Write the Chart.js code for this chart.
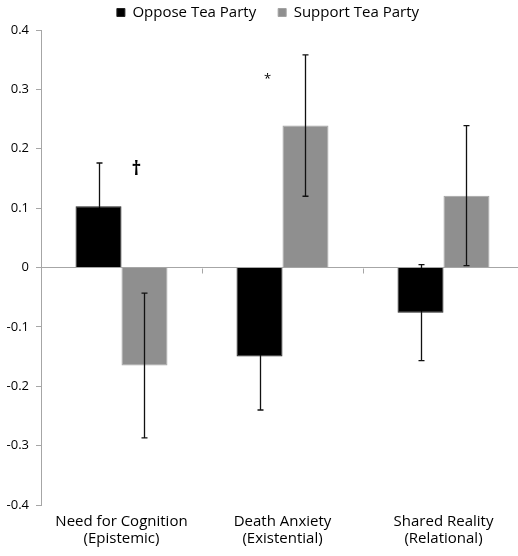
<!DOCTYPE html>
<html>
<head>
<meta charset="utf-8">
<script src="https://cdn.jsdelivr.net/npm/chart.js@4.4.1/dist/chart.umd.min.js"></script>
<style>
  html, body { margin: 0; padding: 0; background: #fff; overflow: hidden; }
  #wrap { position: relative; width: 524px; height: 556px; }
</style>
</head>
<body>
<div id="wrap"><canvas id="c"></canvas></div>
<script>
// ---- data ----
const categories = [["Need for Cognition", "(Epistemic)"], ["Death Anxiety", "(Existential)"], ["Shared Reality", "(Relational)"]];
const seriesNames = ["Oppose Tea Party", "Support Tea Party"];
const opposeValues = [0.103, -0.150, -0.076];
const supportValues = [-0.165, 0.239, 0.121];
const opposeErrors = [0.073, 0.090, 0.081];
const supportErrors = [0.122, 0.119, 0.118];
const yTickLabels = ["-0.4", "-0.3", "-0.2", "-0.1", "0", "0.1", "0.2", "0.3", "0.4"];
const markerLabels = ["\u2020", "*", ""];
const markerValues = [0.165, 0.317, null];

const FONT = "'Open Sans', 'Noto Sans', sans-serif";
const AXIS_GRAY = "#a6a6a6";

function drawErrors(chart, di) {
  const ctx = chart.ctx;
  const y = chart.scales.y;
  const errs = [opposeErrors, supportErrors][di];
  const ds = chart.data.datasets[di];
  const meta = chart.getDatasetMeta(di);
  ctx.save();
  ctx.strokeStyle = "#111";
  ctx.lineWidth = 1.3;
  meta.data.forEach((bar, i) => {
    const v = ds.data[i], e = errs[i];
    const x = Math.round(bar.x) + 0.5;
    const yt = y.getPixelForValue(v + e);
    const yb = y.getPixelForValue(v - e);
    ctx.beginPath();
    ctx.moveTo(x, yt); ctx.lineTo(x, yb);
    ctx.moveTo(x - 3, yt); ctx.lineTo(x + 3, yt);
    ctx.moveTo(x - 3, yb); ctx.lineTo(x + 3, yb);
    ctx.stroke();
  });
  ctx.restore();
}

const errorBarPlugin = {
  id: "errorBars",
  beforeDatasetsDraw(chart) { drawErrors(chart, 0); },
  afterDatasetsDraw(chart) { drawErrors(chart, 1); }
};

const decorPlugin = {
  id: "decor",
  afterLayout(chart) {
    if (chart.legend) { chart.legend.left += 6; chart.legend.right += 6; }
  },
  beforeDatasetsDraw(chart) {
    const ctx = chart.ctx;
    const xs = chart.scales.x, ys = chart.scales.y;
    const y0 = Math.round(ys.getPixelForValue(0)) + 0.5;
    ctx.save();
    ctx.strokeStyle = AXIS_GRAY;
    ctx.lineWidth = 1;
    ctx.beginPath();
    for (let i = 0; i < categories.length - 1; i++) {
      const bx = Math.round((xs.getPixelForTick(i) + xs.getPixelForTick(i + 1)) / 2) + 0.5;
      ctx.moveTo(bx, y0); ctx.lineTo(bx, y0 + 5);
    }
    ctx.stroke();
    ctx.restore();
  },
  afterDatasetsDraw(chart) {
    const ctx = chart.ctx;
    const xs = chart.scales.x, ys = chart.scales.y;
    ctx.save();
    ctx.fillStyle = "#000";
    ctx.textAlign = "center";
    ctx.textBaseline = "middle";
    markerLabels.forEach((m, i) => {
      if (!m || markerValues[i] === null) return;
      ctx.font = (i === 0 ? "bold 19px " : "13px ") + FONT;
      const cx = xs.getPixelForTick(i) + 15 * (i === 0 ? 1 : -1);
      ctx.fillText(m, cx, ys.getPixelForValue(markerValues[i]));
    });
    ctx.restore();
  }
};

new Chart(document.getElementById("c"), {
  type: "bar",
  data: {
    labels: categories,
    datasets: [
      { label: seriesNames[0], data: opposeValues, backgroundColor: "#000000", borderColor: "#222222", borderWidth: 1,
        categoryPercentage: 0.571, barPercentage: 1.0 },
      { label: seriesNames[1], data: supportValues, backgroundColor: "#8f8f8f", borderColor: "#a2a2a2", borderWidth: 1,
        categoryPercentage: 0.571, barPercentage: 1.0 }
    ]
  },
  options: {
    responsive: true,
    maintainAspectRatio: false,
    animation: false,
    layout: { padding: { top: -17, left: 0, right: 0, bottom: 0 } },
    plugins: {
      legend: {
        display: true,
        position: "top",
        labels: {
          boxWidth: 8, boxHeight: 8, padding: 22,
          color: "#000",
          font: { family: FONT, size: 15 },
          useBorderRadius: false
        }
      },
      tooltip: { enabled: false }
    },
    scales: {
      x: {
        grid: { display: false, drawTicks: false },
        border: { display: false },
        ticks: { color: "#000", font: { family: FONT, size: 15, lineHeight: 1.15 }, padding: 8, maxRotation: 0 },
        afterFit(scale) { scale.height = 51; }
      },
      y: {
        min: -0.4, max: 0.4,
        grid: {
          color: (c) => (c.tick && Math.abs(c.tick.value) < 1e-9) ? AXIS_GRAY : "rgba(0,0,0,0)",
          tickColor: AXIS_GRAY,
          tickLength: 5,
          drawOnChartArea: true
        },
        border: { display: true, color: AXIS_GRAY },
        ticks: {
          stepSize: 0.1,
          color: "#000",
          font: { family: FONT, size: 13 },
          padding: 7,
          callback: (v, i) => yTickLabels[i]
        },
        afterFit(scale) { scale.width = 41; }
      }
    }
  },
  plugins: [decorPlugin, errorBarPlugin]
});
</script>
</body>
</html>
